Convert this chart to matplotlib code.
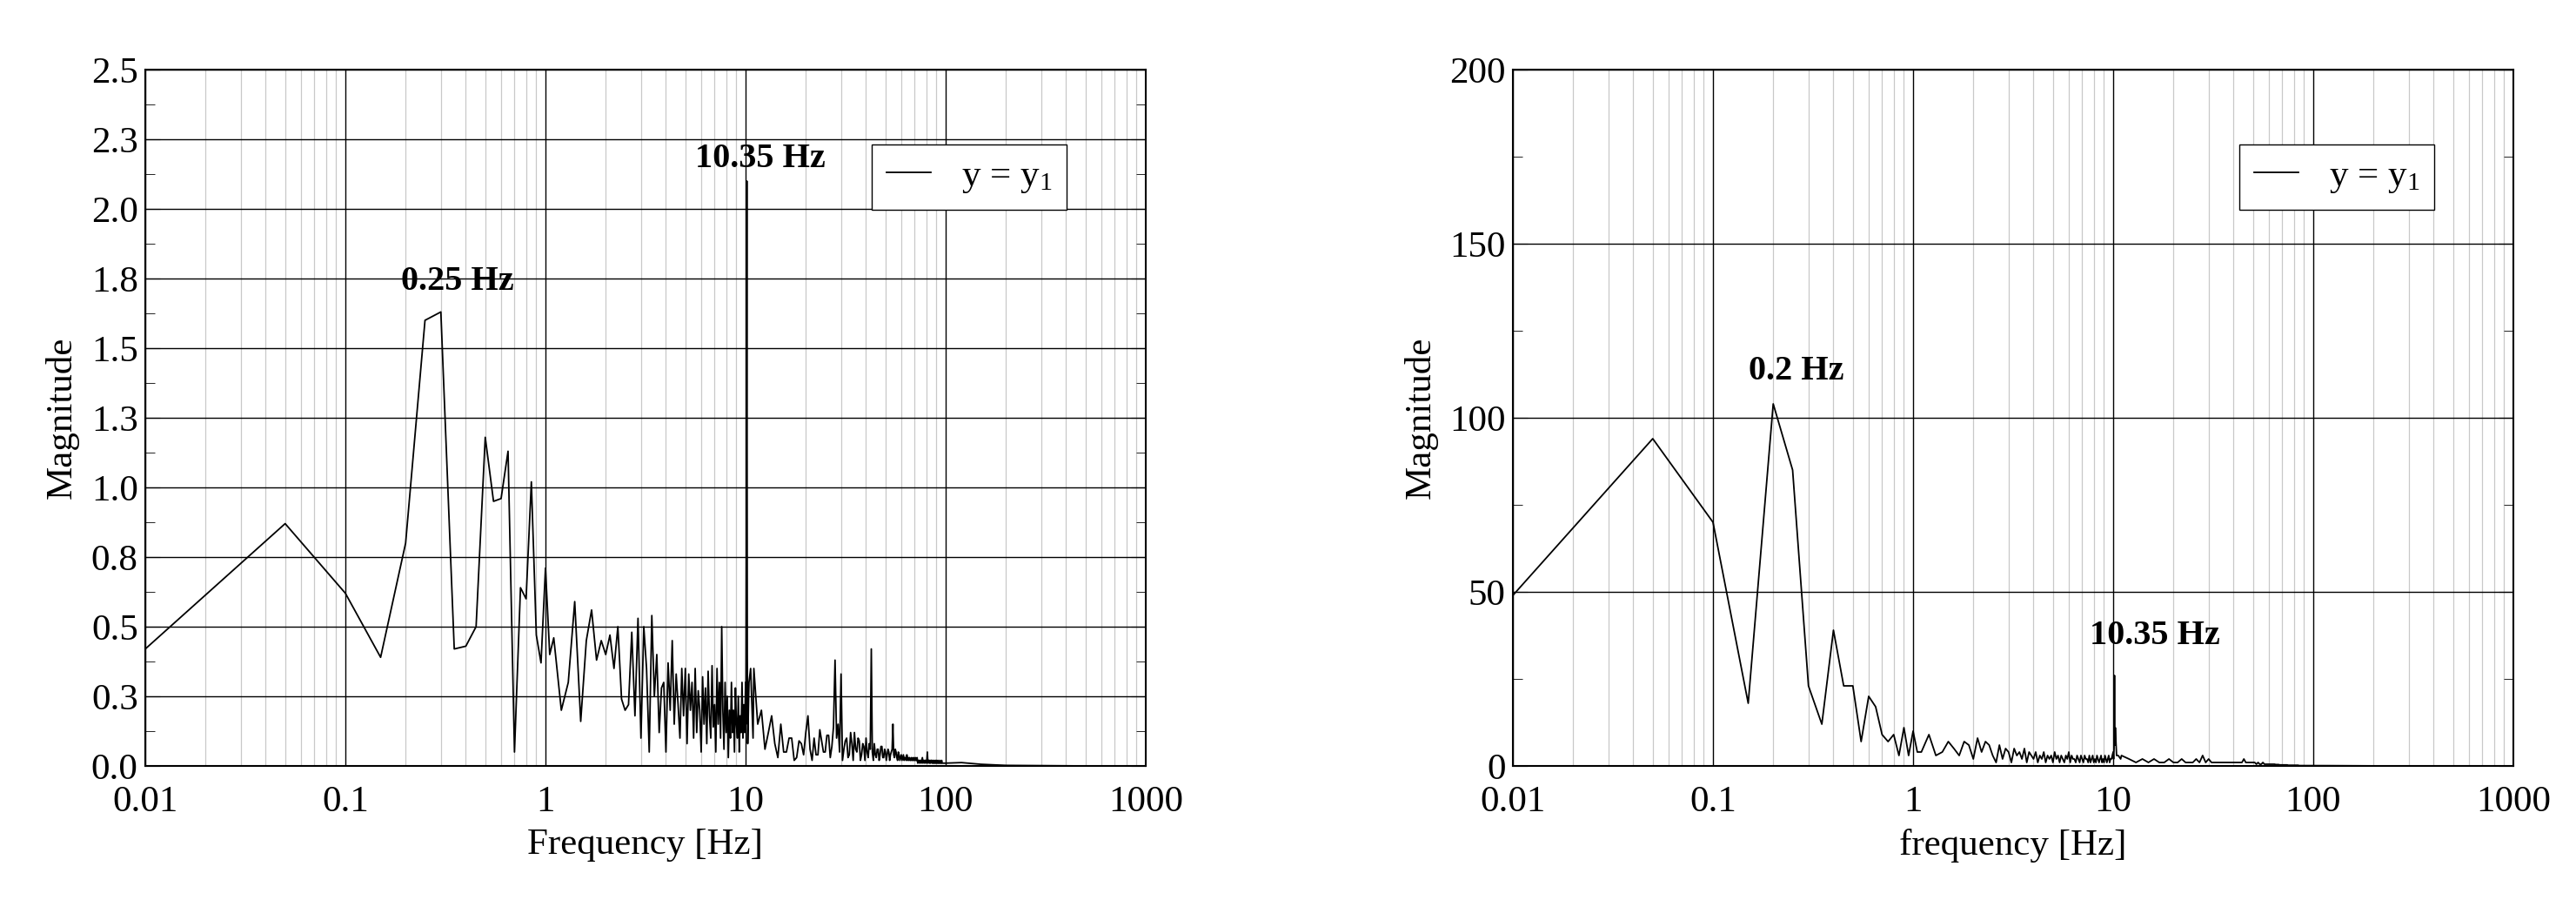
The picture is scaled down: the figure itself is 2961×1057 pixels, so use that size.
import numpy as np
import matplotlib.pyplot as plt
from matplotlib.ticker import FixedLocator, FixedFormatter, MultipleLocator, LogLocator, NullFormatter

plt.rcParams['font.family'] = ['Liberation Serif', 'DejaVu Serif']
plt.rcParams['mathtext.fontset'] = 'custom'
plt.rcParams['mathtext.rm'] = 'Liberation Serif'
plt.rcParams['mathtext.it'] = 'Liberation Serif'

# ---- left panel data ----
left_low_f = [0.01, 0.05, 0.1, 0.15, 0.2, 0.25, 0.3, 0.35, 0.4, 0.45, 0.5, 0.55, 0.6, 0.65,
              0.7, 0.75, 0.8, 0.85, 0.9, 0.95, 1.0, 1.05]
left_low_m = [0.42, 0.87, 0.62, 0.39, 0.80, 1.60, 1.63, 0.42, 0.43, 0.50, 1.18, 0.95, 0.96, 1.13,
              0.05, 0.64, 0.60, 1.02, 0.47, 0.37, 0.71, 0.40]
# 0.1 Hz spacing from 1.1 Hz
left_mid_m = [0.46, 0.20, 0.30, 0.59, 0.16, 0.45, 0.56, 0.38, 0.45, 0.40, 0.47, 0.35, 0.50, 0.24,
              0.20, 0.22, 0.48, 0.18, 0.53, 0.10, 0.50, 0.35, 0.05, 0.54, 0.25, 0.40, 0.12, 0.28,
              0.30, 0.05, 0.37, 0.20, 0.45, 0.15, 0.33, 0.22, 0.10, 0.35, 0.18, 0.35, 0.08, 0.33,
              0.20, 0.30, 0.10, 0.35, 0.12, 0.27, 0.20, 0.05, 0.32, 0.15, 0.28, 0.08, 0.34, 0.18,
              0.10, 0.36, 0.14, 0.22, 0.05, 0.35, 0.15, 0.30, 0.10, 0.50, 0.20, 0.06, 0.30, 0.12,
              0.25, 0.03, 0.20, 0.10, 0.30, 0.12, 0.20, 0.05, 0.28, 0.15, 0.10, 0.25, 0.05, 0.18,
              0.12, 0.30, 0.10, 0.22, 0.12, 0.30]
left_mid_f = 1.1 + 0.1 * np.arange(len(left_mid_m))
left_spike_f = [10.05, 10.1, 10.15, 10.2, 10.25, 10.4, 10.6, 10.9]
left_spike_m = [0.15, 0.90, 2.10, 0.40, 0.08, 0.30, 0.35, 0.10]
# 0.5 Hz spacing from 11 Hz
left_high_m = [0.35, 0.15, 0.20, 0.06, 0.12, 0.18, 0.08, 0.03, 0.15, 0.05, 0.05, 0.10, 0.10, 0.02,
               0.03, 0.09, 0.08, 0.04, 0.12, 0.18, 0.06, 0.02, 0.10, 0.04, 0.04, 0.13, 0.09, 0.05,
               0.05, 0.11, 0.11, 0.03, 0.07, 0.14, 0.38, 0.10, 0.15, 0.05, 0.33, 0.02, 0.06, 0.09,
               0.10, 0.03, 0.04, 0.12, 0.08, 0.02, 0.12, 0.06, 0.05, 0.10, 0.09, 0.02, 0.04, 0.08,
               0.07, 0.02, 0.10, 0.05, 0.03, 0.08, 0.06, 0.42, 0.05, 0.02, 0.08, 0.04, 0.03, 0.06,
               0.06, 0.02, 0.04, 0.07, 0.07, 0.03, 0.03, 0.06, 0.05, 0.02, 0.04, 0.06, 0.05, 0.02,
               0.04, 0.05, 0.06, 0.15, 0.04, 0.03, 0.06, 0.05, 0.03, 0.02, 0.05, 0.04, 0.02, 0.03,
               0.04, 0.02, 0.03, 0.04, 0.02, 0.03, 0.03, 0.02, 0.04, 0.02, 0.03, 0.02, 0.03, 0.02,
               0.02, 0.03, 0.02, 0.02, 0.03, 0.02, 0.02, 0.03, 0.02, 0.02, 0.03, 0.01, 0.02, 0.02,
               0.01, 0.02, 0.02, 0.01, 0.02, 0.03, 0.01, 0.02, 0.02, 0.01, 0.02, 0.02, 0.01, 0.02,
               0.05, 0.01, 0.02, 0.02, 0.01, 0.02, 0.01, 0.02, 0.02, 0.01, 0.02, 0.01, 0.01, 0.02,
               0.01, 0.01, 0.02, 0.01, 0.02, 0.01, 0.01, 0.02, 0.01, 0.01, 0.01, 0.02, 0.01, 0.01,
               0.01, 0.02, 0.01, 0.01, 0.01, 0.01, 0.01, 0.01, 0.01, 0.01]
left_high_f = 11 + 0.5 * np.arange(len(left_high_m))
left_tail_f = [120, 150, 200, 300, 500, 1000]
left_tail_m = [0.012, 0.006, 0.002, 0.001, 0.0, 0.0]

# ---- right panel data ----
right_low_f = [0.01, 0.05, 0.1, 0.15, 0.2, 0.25, 0.3, 0.35, 0.4, 0.45, 0.5, 0.55, 0.6, 0.65,
               0.7, 0.75, 0.8, 0.85, 0.9, 0.95, 1.0, 1.05]
right_low_m = [49, 94, 70, 18, 104, 85, 23, 12, 39, 23, 23, 7, 20, 17,
               9, 7, 9, 3, 11, 3, 10, 4]
right_mid_m = [4, 9, 3, 4, 7, 5, 3, 7, 6, 2, 8, 4, 7, 6, 3, 1, 6, 2, 5, 4,
               1, 5, 3, 4, 2, 5, 1, 4, 3, 2, 4, 1, 3, 2, 4, 1, 3, 2, 3, 1,
               4, 2, 3, 1, 3, 2, 1, 3, 2, 4, 1, 3, 2, 2, 1, 3, 2, 1, 3, 2,
               1, 3, 2, 2, 1, 3, 1, 2, 3, 1, 2, 1, 3, 2, 1, 2, 3, 1, 2, 1,
               3, 2, 1, 2, 3, 1, 2, 2, 3, 4]
right_mid_f = 1.1 + 0.1 * np.arange(len(right_mid_m))
right_spike_f = [10.05, 10.1, 10.15, 10.2, 10.25, 10.4, 10.6, 10.9]
right_spike_m = [2, 5, 26, 6, 11, 3, 3, 2]
right_high_m = [3, 2, 1, 2, 1, 2, 1, 1, 2, 1, 1, 2, 1, 1, 1, 2, 1, 3, 1, 2,
                1, 1, 1, 1, 1, 1, 1, 1, 1, 1, 1, 1, 1, 1, 2, 1, 1, 1, 1, 1,
                1, 0.5, 1, 0.5, 0.5, 1, 0.5, 0.5, 0.5, 0.5, 0.5, 0.5, 0.5, 0.5, 0.4, 0.4, 0.4, 0.3, 0.3, 0.3,
                0.3, 0.3, 0.3, 0.3, 0.2, 0.2, 0.2, 0.2, 0.2, 0.2, 0.2, 0.2, 0.2, 0.2, 0.1, 0.1, 0.1, 0.1, 0.1, 0.1,
                0.1, 0.1, 0.1, 0.1, 0.1, 0.1, 0.1, 0.1, 0.1, 0.1]
right_high_f = 11 + 1.0 * np.arange(len(right_high_m))
right_tail_f = [120, 150, 200, 300, 500, 1000]
right_tail_m = [0.08, 0.05, 0.02, 0.01, 0.0, 0.0]

left_yticks = [0, 0.25, 0.5, 0.75, 1.0, 1.25, 1.5, 1.75, 2.0, 2.25, 2.5]
left_ylabels = ['0.0', '0.3', '0.5', '0.8', '1.0', '1.3', '1.5', '1.8', '2.0', '2.3', '2.5']
right_yticks = [0, 50, 100, 150, 200]
xticks = [0.01, 0.1, 1, 10, 100, 1000]
xlabels = ['0.01', '0.1', '1', '10', '100', '1000']


def style_axis(ax):
    ax.set_xscale('log')
    ax.set_xlim(0.01, 1000)
    ax.xaxis.set_major_locator(FixedLocator(xticks))
    ax.xaxis.set_major_formatter(FixedFormatter(xlabels))
    ax.xaxis.set_minor_locator(LogLocator(base=10, subs=np.arange(2, 10)))
    ax.xaxis.set_minor_formatter(NullFormatter())
    ax.grid(True, which='major', color='black', lw=1.0)
    ax.grid(True, which='minor', axis='x', color='#c8c8c8', lw=0.9)
    ax.tick_params(axis='x', which='both', length=0, labelsize=31, pad=16)
    ax.tick_params(axis='y', which='both', direction='in', right=True, labelsize=31, pad=6)
    ax.tick_params(axis='y', which='major', length=12)
    ax.tick_params(axis='y', which='minor', length=8)
    for s in ax.spines.values():
        s.set_linewidth(1.5)
    ax.set_axisbelow(True)


fig = plt.figure(figsize=(29.61, 10.57), dpi=100)
ax1 = fig.add_axes([167 / 2961, 1 - 880 / 1057, 1150 / 2961, 800 / 1057])
ax2 = fig.add_axes([1739 / 2961, 1 - 880 / 1057, 1150 / 2961, 800 / 1057])

lf = np.concatenate([left_low_f, left_mid_f, left_spike_f, left_high_f, left_tail_f])
lm = np.concatenate([left_low_m, left_mid_m, left_spike_m, left_high_m, left_tail_m])
rf = np.concatenate([right_low_f, right_mid_f, right_spike_f, right_high_f, right_tail_f])
rm = np.concatenate([right_low_m, right_mid_m, right_spike_m, right_high_m, right_tail_m])

ax1.plot(lf, lm, color='black', lw=1.3, label='y = y$_1$')
style_axis(ax1)
ax1.set_ylim(0, 2.5)
ax1.yaxis.set_major_locator(FixedLocator(left_yticks))
ax1.yaxis.set_major_formatter(FixedFormatter(left_ylabels))
ax1.yaxis.set_minor_locator(MultipleLocator(0.125))
ax1.set_xlabel('Frequency [Hz]', fontsize=31, labelpad=8)
ax1.set_ylabel('Magnitude', fontsize=31, labelpad=10)
ax1.text(0.19, 1.71, '0.25 Hz', fontsize=29, fontweight='bold', ha='left')
ax1.text(5.6, 2.15, '10.35 Hz', fontsize=29, fontweight='bold', ha='left')
ax1.legend(loc='upper right', bbox_to_anchor=(0.94, 0.92), fontsize=31, fancybox=False,
           edgecolor='black', framealpha=1, handlelength=1.2)

ax2.plot(rf, rm, color='black', lw=1.3, label='y = y$_1$')
style_axis(ax2)
ax2.set_ylim(0, 200)
ax2.yaxis.set_major_locator(FixedLocator(right_yticks))
ax2.yaxis.set_minor_locator(MultipleLocator(25))
ax2.set_xlabel('frequency [Hz]', fontsize=31, labelpad=8)
ax2.set_ylabel('Magnitude', fontsize=31, labelpad=10)
ax2.text(0.15, 111, '0.2 Hz', fontsize=29, fontweight='bold', ha='left')
ax2.text(7.6, 35, '10.35 Hz', fontsize=29, fontweight='bold', ha='left')
ax2.legend(loc='upper right', bbox_to_anchor=(0.94, 0.92), fontsize=31, fancybox=False,
           edgecolor='black', framealpha=1, handlelength=1.2)

fig.savefig('out.png', dpi=100)
